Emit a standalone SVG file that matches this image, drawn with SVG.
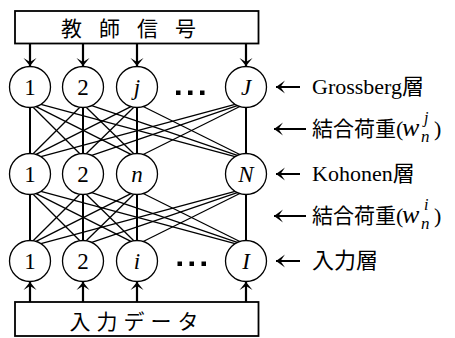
<svg xmlns="http://www.w3.org/2000/svg" width="455" height="338" viewBox="0 0 455 338">
<style>
.box{fill:#fff;stroke:#000;stroke-width:1.8}
.node circle{fill:#fff;stroke:#000;stroke-width:1.3}
.lbl{font-family:"Liberation Serif","Times New Roman",serif;font-size:23px;text-anchor:middle;fill:#000}
.it{font-style:italic}
.cjk{font-family:"Noto Sans CJK JP","Noto Sans",sans-serif;fill:#000}
.ser{font-family:"Liberation Serif",serif;fill:#000}
.diag line{stroke:#000;stroke-width:1.3}
.vert line{stroke:#000;stroke-width:2}
.arr{stroke:#000;stroke-width:2.2;fill:none;marker-end:url(#head)}
.rarr{stroke:#000;stroke-width:2;fill:none;marker-end:url(#head2)}
.dot{fill:#000}
</style>
<defs>
<marker id="head" markerUnits="userSpaceOnUse" markerWidth="16" markerHeight="16" viewBox="-9 -8 10 16" refX="0" refY="0" orient="auto">
<path d="M0,0 L-8,-6.5 L-4,0 L-8,6.5 Z" fill="#000"/>
</marker>
<marker id="head2" markerUnits="userSpaceOnUse" markerWidth="16" markerHeight="16" viewBox="-10 -8 11 16" refX="0" refY="0" orient="auto">
<path d="M0,0 L-9,-6.5 L-4.5,0 L-9,6.5 Z" fill="#000"/>
</marker>
</defs>

<g id="teacher">
<rect class="box" x="15" y="11" width="243.5" height="32.5"/>
<text class="cjk" x="137" y="36" font-size="21" text-anchor="middle" letter-spacing="17">教師信号</text>
</g>
<g id="input">
<rect class="box" x="15" y="302" width="243.5" height="34"/>
<text class="cjk" x="137" y="329" font-size="21" text-anchor="middle" letter-spacing="6">入力データ</text>
</g>

<g id="connectors">
<g class="vert">
<line x1="30" y1="107" x2="30" y2="154"/><line x1="83" y1="107" x2="83" y2="154"/>
<line x1="137" y1="107" x2="137" y2="154"/><line x1="246" y1="107" x2="246" y2="154"/>
<line x1="30" y1="194" x2="30" y2="241"/><line x1="83" y1="194" x2="83" y2="241"/>
<line x1="137" y1="194" x2="137" y2="241"/><line x1="246" y1="194" x2="246" y2="241"/>
</g>
<g class="diag">
<line x1="33.12" y1="107.26" x2="79.88" y2="153.74"/>
<line x1="36.09" y1="106.57" x2="130.91" y2="154.43"/>
<line x1="40.9" y1="104.36" x2="235.1" y2="156.64"/>
<line x1="79.88" y1="107.26" x2="33.12" y2="153.74"/>
<line x1="86.18" y1="107.25" x2="133.82" y2="153.75"/>
<line x1="91.78" y1="105.53" x2="237.22" y2="155.47"/>
<line x1="130.91" y1="106.57" x2="36.09" y2="154.43"/>
<line x1="133.82" y1="107.25" x2="86.18" y2="153.75"/>
<line x1="143.19" y1="106.54" x2="239.81" y2="154.46"/>
<line x1="235.1" y1="104.36" x2="40.9" y2="156.64"/>
<line x1="237.22" y1="105.53" x2="91.78" y2="155.47"/>
<line x1="239.81" y1="106.54" x2="143.19" y2="154.46"/>
<line x1="33.12" y1="194.26" x2="79.88" y2="240.74"/>
<line x1="36.09" y1="193.57" x2="130.91" y2="241.43"/>
<line x1="40.9" y1="191.36" x2="235.1" y2="243.64"/>
<line x1="79.88" y1="194.26" x2="33.12" y2="240.74"/>
<line x1="86.18" y1="194.25" x2="133.82" y2="240.75"/>
<line x1="91.78" y1="192.53" x2="237.22" y2="242.47"/>
<line x1="130.91" y1="193.57" x2="36.09" y2="241.43"/>
<line x1="133.82" y1="194.25" x2="86.18" y2="240.75"/>
<line x1="143.19" y1="193.54" x2="239.81" y2="241.46"/>
<line x1="235.1" y1="191.36" x2="40.9" y2="243.64"/>
<line x1="237.22" y1="192.53" x2="91.78" y2="242.47"/>
<line x1="239.81" y1="193.54" x2="143.19" y2="241.46"/>
</g>
<path class="arr" d="M30,43.5 V66"/><path class="arr" d="M83,43.5 V66"/>
<path class="arr" d="M137,43.5 V66"/><path class="arr" d="M246,43.5 V66"/>
<path class="arr" d="M30,302 V282"/><path class="arr" d="M83,302 V282"/>
<path class="arr" d="M137,302 V282"/><path class="arr" d="M246,302 V282"/>
<path class="rarr" d="M300,87 H276"/>
<path class="rarr" d="M306,129 H274"/>
<path class="rarr" d="M300,174 H276"/>
<path class="rarr" d="M306,216 H274"/>
<path class="rarr" d="M300,261 H276"/>
</g>

<g id="g1" class="node"><circle cx="30" cy="87" r="20.5"/><text class="lbl" x="30" y="95">1</text></g>
<g id="g2" class="node"><circle cx="83" cy="87" r="20.5"/><text class="lbl" x="83" y="95">2</text></g>
<g id="gj" class="node"><circle cx="137" cy="87" r="20.5"/><text class="lbl it" x="137" y="95">j</text></g>
<g id="gJ" class="node"><circle cx="246" cy="87" r="20.5"/><text class="lbl it" x="246" y="95">J</text></g>
<g id="k1" class="node"><circle cx="30" cy="174" r="20.5"/><text class="lbl" x="30" y="182">1</text></g>
<g id="k2" class="node"><circle cx="83" cy="174" r="20.5"/><text class="lbl" x="83" y="182">2</text></g>
<g id="kn" class="node"><circle cx="137" cy="174" r="20.5"/><text class="lbl it" x="137" y="182">n</text></g>
<g id="kN" class="node"><circle cx="246" cy="174" r="20.5"/><text class="lbl it" x="246" y="182">N</text></g>
<g id="i1" class="node"><circle cx="30" cy="261" r="20.5"/><text class="lbl" x="30" y="269">1</text></g>
<g id="i2" class="node"><circle cx="83" cy="261" r="20.5"/><text class="lbl" x="83" y="269">2</text></g>
<g id="ii" class="node"><circle cx="137" cy="261" r="20.5"/><text class="lbl it" x="137" y="269">i</text></g>
<g id="iI" class="node"><circle cx="246" cy="261" r="20.5"/><text class="lbl it" x="246" y="269">I</text></g>

<g id="dots-top">
<rect class="dot" x="176" y="90.5" width="4.5" height="4.5"/><rect class="dot" x="188" y="90.5" width="4.5" height="4.5"/><rect class="dot" x="200" y="90.5" width="4.5" height="4.5"/>
</g>
<g id="dots-bottom">
<rect class="dot" x="177.5" y="261.5" width="4.5" height="4.5"/><rect class="dot" x="189.5" y="261.5" width="4.5" height="4.5"/><rect class="dot" x="201.5" y="261.5" width="4.5" height="4.5"/>
</g>

<g id="label-grossberg">
<text x="312" y="94"><tspan class="ser" font-size="22">Grossberg</tspan><tspan class="cjk" font-size="22">層</tspan></text>
</g>
<g id="label-weight-j">
<text class="cjk" x="312" y="136" font-size="21">結合荷重</text>
<text class="ser" x="396" y="136" font-size="22">(</text>
<text class="ser it" x="402" y="136" font-size="26">w</text>
<text class="ser it" x="424" y="123" font-size="16">j</text>
<text class="ser it" x="421" y="142" font-size="17">n</text>
<text class="ser" x="434" y="136" font-size="22">)</text>
</g>
<g id="label-kohonen">
<text x="312" y="181"><tspan class="ser" font-size="22">Kohonen</tspan><tspan class="cjk" font-size="22">層</tspan></text>
</g>
<g id="label-weight-i">
<text class="cjk" x="312" y="223" font-size="21">結合荷重</text>
<text class="ser" x="396" y="223" font-size="22">(</text>
<text class="ser it" x="402" y="223" font-size="26">w</text>
<text class="ser it" x="424" y="210" font-size="16">i</text>
<text class="ser it" x="421" y="229" font-size="17">n</text>
<text class="ser" x="434" y="223" font-size="22">)</text>
</g>
<g id="label-input">
<text class="cjk" x="312" y="268" font-size="22">入力層</text>
</g>
</svg>
